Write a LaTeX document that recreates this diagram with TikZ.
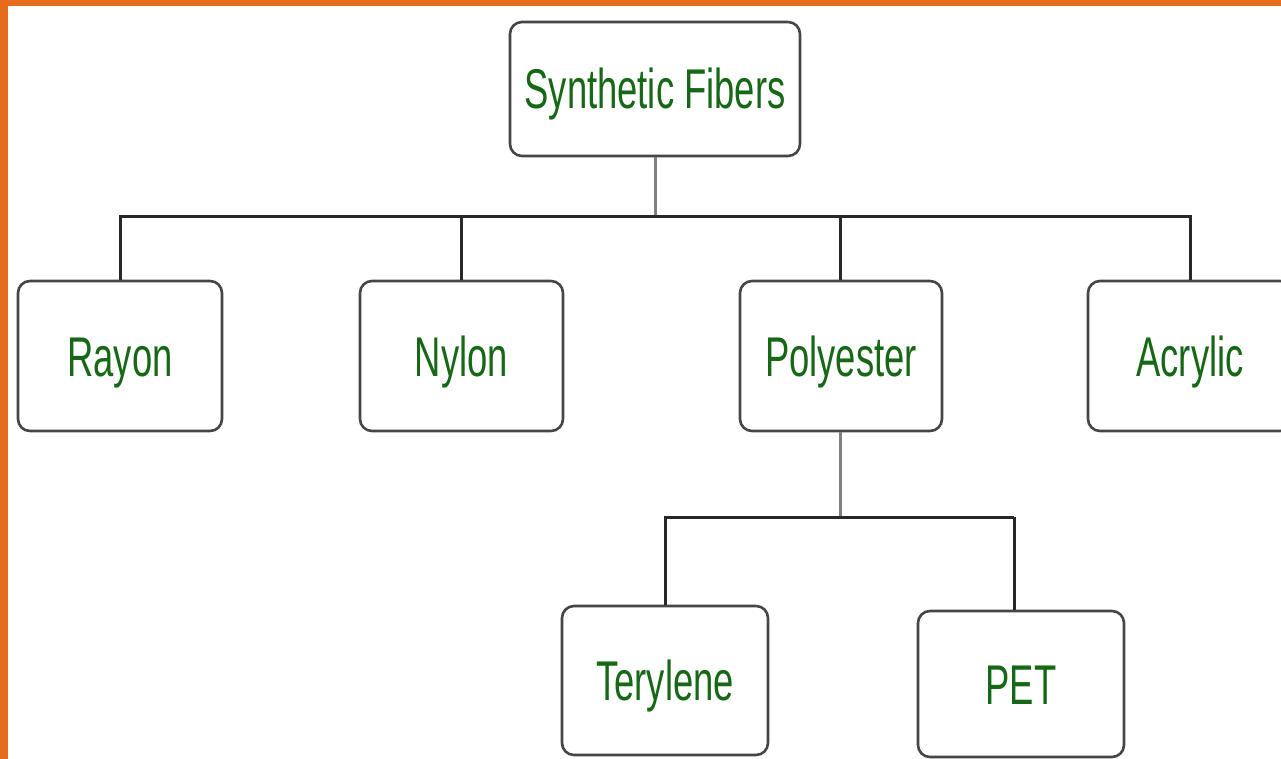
\documentclass[tikz,border=0pt]{standalone}
\usepackage{fontspec}
\setmainfont{Liberation Sans}
\definecolor{frameorange}{RGB}{228,108,28}
\definecolor{txtgreen}{RGB}{22,104,22}
\definecolor{boxline}{RGB}{70,70,70}
\definecolor{wire}{RGB}{40,40,40}
\begin{document}
\begin{tikzpicture}[x=1pt,y=-1pt,
  fiberbox/.style={draw=boxline, line width=2.6pt, rounded corners=12pt, fill=white,
     inner sep=0pt, text height=40pt, text depth=0pt, text=txtgreen, font=\fontsize{56}{60}\selectfont},
  wireline/.style={draw=wire, line width=3pt},
  stemline/.style={draw=black!50, line width=3pt}]
\useasboundingbox (0,0) rectangle (1281,759);
\fill[white] (0,0) rectangle (1281,759);
\fill[frameorange] (0,0) rectangle (1281,6);
\fill[frameorange] (0,0) rectangle (8,759);
% bus coordinates
\coordinate (bus1) at (655,217);
\coordinate (bus2) at (840,517);
\coordinate (petx) at (1014,517);
% nodes
\node[fiberbox, minimum width=290pt, minimum height=134pt] (sf) at (655,89) {\scalebox{0.65}[1]{Synthetic Fibers}};
\node[fiberbox, minimum width=204pt, minimum height=150pt] (rayon) at (120,356) {\scalebox{0.65}[1]{Rayon}};
\node[fiberbox, minimum width=203pt, minimum height=150pt] (nylon) at (461.5,356) {\scalebox{0.65}[1]{Nylon}};
\node[fiberbox, minimum width=202pt, minimum height=150pt] (poly) at (841,356) {\scalebox{0.65}[1]{Polyester}};
\node[fiberbox, minimum width=204pt, minimum height=150pt] (acryl) at (1190,356) {\scalebox{0.65}[1]{Acrylic}};
\node[fiberbox, minimum width=206pt, minimum height=149pt] (ter) at (665,680.5) {\scalebox{0.65}[1]{Terylene}};
\node[fiberbox, minimum width=206pt, minimum height=146pt] (pet) at (1021,684) {\scalebox{0.65}[1]{PET}};
% connectors
\draw[stemline] (sf.south) -- (bus1);
\draw[wireline] (rayon.north) -- (rayon.north |- bus1) -- (acryl.north |- bus1) -- (acryl.north);
\draw[wireline] (nylon.north) -- (nylon.north |- bus1);
\draw[wireline] (poly.north -| bus2) -- (bus2 |- bus1);
\draw[stemline] (poly.south -| bus2) -- (bus2);
\draw[wireline] (ter.north) -- (ter.north |- bus2) -- (petx);
\draw[wireline] (petx) -- (petx |- pet.north);
\end{tikzpicture}
\end{document}
